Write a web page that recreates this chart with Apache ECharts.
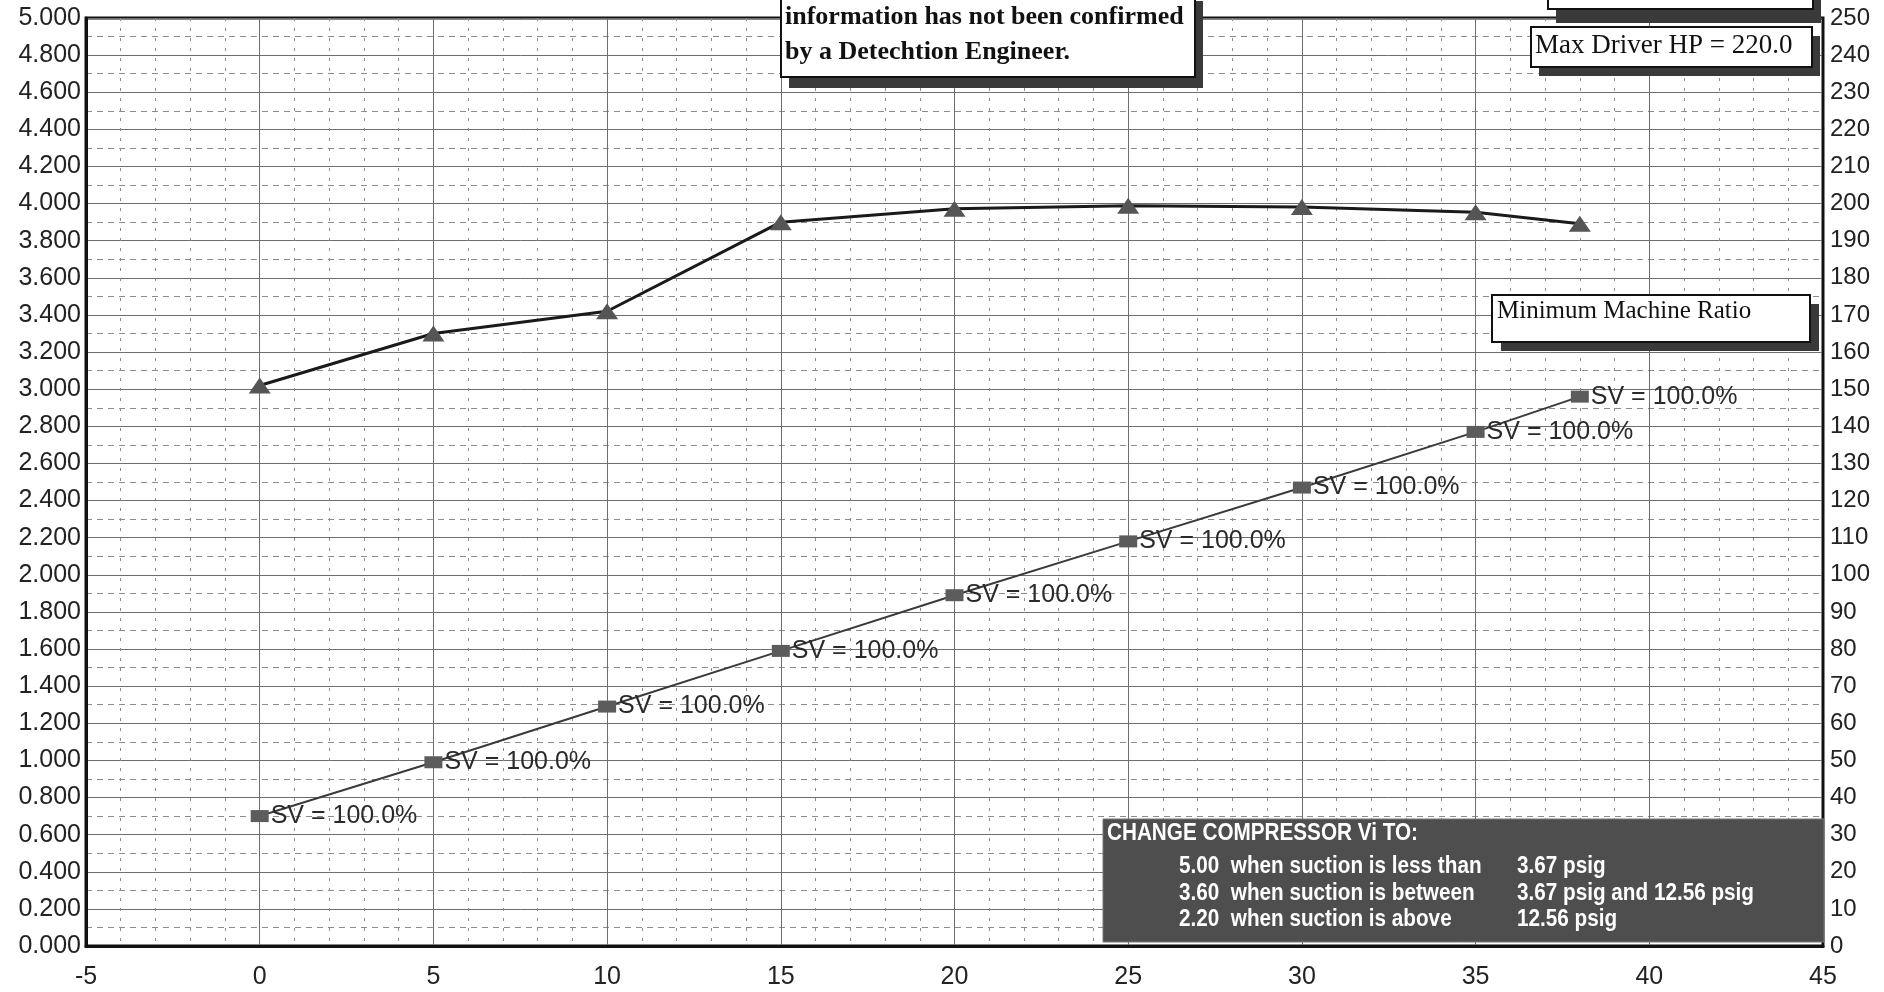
<!DOCTYPE html>
<html>
<head>
<meta charset="utf-8">
<script src="https://cdn.jsdelivr.net/npm/echarts@6/dist/echarts.min.js"></script>
<style>
html,body{margin:0;padding:0;background:#fff;}
#chart{width:1884px;height:992px;}
</style>
</head>
<body>
<div id="chart"></div>
<script>
// ---- data ----
const xValues = [0, 5, 10, 15, 20, 25, 30, 35, 38];
const hpValues = [151, 165, 171, 195, 198.6, 199.4, 199.1, 197.7, 194.6];      // triangles, right axis
const ratioValues = [0.70, 0.99, 1.29, 1.59, 1.89, 2.18, 2.47, 2.77, 2.96];    // squares, left axis
const svLabels = ['SV = 100.0%', 'SV = 100.0%', 'SV = 100.0%', 'SV = 100.0%', 'SV = 100.0%',
                  'SV = 100.0%', 'SV = 100.0%', 'SV = 100.0%', 'SV = 100.0%'];
const noteLines = ['information has not been confirmed', 'by a Detechtion Engineer.'];
const maxDriverText = 'Max Driver HP = 220.0';
const minRatioText = 'Minimum Machine Ratio';
const viTitle = 'CHANGE COMPRESSOR Vi TO:';
const viCol1 = ['5.00  when suction is less than', '3.60  when suction is between', '2.20  when suction is above'];
const viCol2 = ['3.67 psig', '3.67 psig and 12.56 psig', '12.56 psig'];

const sansFont = "'Liberation Sans', Arial, sans-serif";
const serifFont = "'Liberation Serif', 'Times New Roman', serif";

const chart = echarts.init(document.getElementById('chart'), null, {renderer: 'canvas'});

function shadowBox(x, y, w, h, off, offY) {
  return [
    {type: 'rect', shape: {x: x + off, y: y + offY, width: w, height: h}, style: {fill: '#3a3a3a'}, z: 100},
    {type: 'rect', shape: {x: x, y: y, width: w, height: h}, style: {fill: '#ffffff', stroke: '#111', lineWidth: 2}, z: 101}
  ];
}
function narrowText(t, x, y, size) {
  return {type: 'text', z: 102, x: x, y: y, scaleX: 0.9, scaleY: 1,
    style: {text: t, x: 0, y: 0, verticalAlign: 'middle', align: 'left',
            fontWeight: 'bold', fontSize: size, fontFamily: sansFont, fill: '#ffffff'}};
}

const graphics = [];
// top centre note box
graphics.push(...shadowBox(781, -10, 414, 87, 8, 11));
noteLines.forEach((t, i) => graphics.push({
  type: 'text', z: 102, left: 785, top: 4 + i * 35,
  style: {text: t, fontWeight: 'bold', fontSize: 26, fontFamily: serifFont, fill: '#111'}
}));
// top right empty box
graphics.push(...shadowBox(1548, -20, 265, 29, 8, 14));
// Max driver HP box
graphics.push(...shadowBox(1531, 27, 281, 40, 8, 9));
graphics.push({type: 'text', z: 102, left: 1535, top: 32,
  style: {text: maxDriverText, fontSize: 27, fontFamily: serifFont, fill: '#111'}});
// Minimum machine ratio box
graphics.push(...shadowBox(1492, 295, 318, 47, 9, 9));
graphics.push({type: 'text', z: 102, left: 1497, top: 299,
  style: {text: minRatioText, fontSize: 25, fontFamily: serifFont, fill: '#111'}});
// Vi box
graphics.push({type: 'rect', z: 100, shape: {x: 1103, y: 819, width: 721, height: 123},
  style: {fill: '#4e4e4e', stroke: '#777', lineWidth: 1}});
graphics.push(narrowText(viTitle, 1107, 834, 23));
viCol1.forEach((t, i) => graphics.push(narrowText(t, 1179, 867 + i * 26.5, 23)));
viCol2.forEach((t, i) => graphics.push(narrowText(t, 1517, 867 + i * 26.5, 23)));

const option = {
  animation: false,
  backgroundColor: '#ffffff',
  grid: {left: 86, right: 61, top: 18, bottom: 46, show: true, borderColor: '#111', borderWidth: 3, containLabel: false},
  xAxis: {
    type: 'value', min: -5, max: 45, interval: 5,
    axisLine: {show: true, onZero: false, lineStyle: {color: '#111', width: 3}},
    axisTick: {show: false},
    axisLabel: {color: '#222', fontFamily: sansFont, fontSize: 25, margin: 19, showMinLabel: true, showMaxLabel: true},
    splitLine: {show: true, lineStyle: {color: '#6e6e6e', width: 1}},
    minorTick: {show: false, splitNumber: 5},
    minorSplitLine: {show: true, lineStyle: {color: '#8c8c8c', width: 1, type: [3, 7]}}
  },
  yAxis: [
    {
      type: 'value', min: 0, max: 5, interval: 0.2, position: 'left',
      axisLine: {show: true, onZero: false, lineStyle: {color: '#111', width: 3}},
      axisTick: {show: false},
      axisLabel: {color: '#222', fontFamily: sansFont, fontSize: 25, margin: 5,
                  formatter: v => v.toFixed(3)},
      splitLine: {show: true, lineStyle: {color: '#6e6e6e', width: 1}},
      minorTick: {show: false, splitNumber: 2},
      minorSplitLine: {show: true, lineStyle: {color: '#8c8c8c', width: 1, type: [6, 5]}}
    },
    {
      type: 'value', min: 0, max: 250, interval: 10, position: 'right',
      axisLine: {show: true, onZero: false, lineStyle: {color: '#111', width: 2}},
      axisTick: {show: false},
      axisLabel: {color: '#222', fontFamily: sansFont, fontSize: 24, margin: 7},
      splitLine: {show: false}
    }
  ],
  series: [
    {
      name: 'Machine Ratio', type: 'line', yAxisIndex: 0,
      data: xValues.map((x, i) => [x, ratioValues[i]]),
      symbol: 'rect', symbolSize: [18, 12],
      itemStyle: {color: '#5c5c5c'},
      lineStyle: {color: '#3a3a3a', width: 2},
      label: {show: true, position: 'right', distance: 2, color: '#2a2a2a',
              fontFamily: sansFont, fontSize: 25,
              formatter: p => svLabels[p.dataIndex]},
      z: 5
    },
    {
      name: 'HP', type: 'line', yAxisIndex: 1,
      data: xValues.map((x, i) => [x, hpValues[i]]),
      symbol: 'triangle', symbolSize: [22, 16],
      itemStyle: {color: '#555555'},
      lineStyle: {color: '#1a1a1a', width: 3},
      z: 6
    }
  ],
  graphic: graphics
};
chart.setOption(option);
</script>
</body>
</html>
